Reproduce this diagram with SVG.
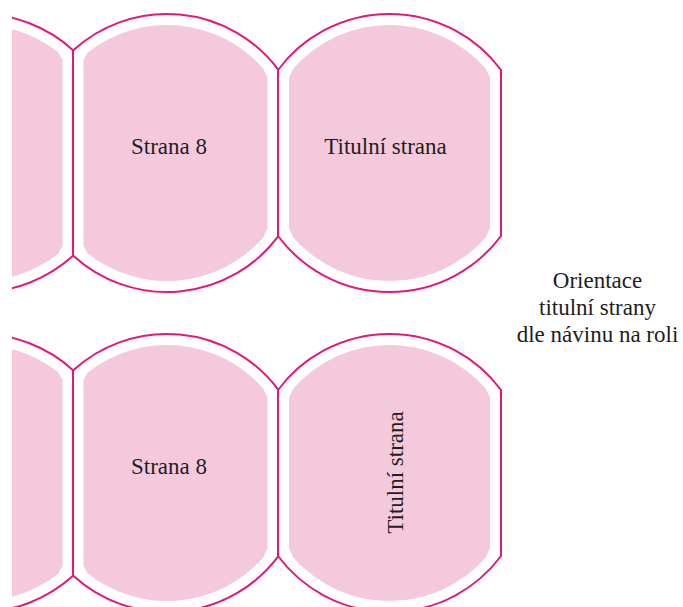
<svg xmlns="http://www.w3.org/2000/svg" width="683" height="607" viewBox="0 0 683 607">
  <style>
    .edge { fill: #ffffff; stroke: #E2187E; stroke-width: 2; stroke-linejoin: miter; }
    .face { fill: #F5C9DC; stroke: none; }
    text { font-family: 'Liberation Serif', 'Times New Roman', serif; font-size: 23px; fill: #1e1e1e; text-anchor: middle; }
  </style>
  <defs>
    <clipPath id="sheet">
      <rect x="12" y="0" width="671" height="607"/>
    </clipPath>
    <!-- one strip of three labels on the roll -->
    <g id="strip">
      <g id="label-prev">
        <path class="edge" d="M73,50.15 A139,139 0 1 0 73,255.85 Z"/>
        <path class="face" d="M58,51.9 A128,128 0 1 0 58,254.1 L62.5,246 L62.5,60 Z"/>
      </g>
      <g id="label-page8">
        <path class="edge" d="M73,50.6 A139,139 0 0 1 278,69.3 L278,236.7 A139,139 0 0 1 73,255.4 Z"/>
        <path class="face" d="M83.5,60 L88,52.3 A128,128 0 0 1 263,68.3 L267.5,77.5 L267.5,228.5 L263,237.7 A128,128 0 0 1 88,253.7 L83.5,246 Z"/>
      </g>
      <g id="label-title">
        <path class="edge" d="M278,70 A139,139 0 0 1 501,70 L501,236 A139,139 0 0 1 278,236 Z"/>
        <path class="face" d="M289,77.5 L293.5,68.3 A128,128 0 0 1 485.5,68.3 L490,77.5 L490,228.5 L485.5,237.7 A128,128 0 0 1 293.5,237.7 L289,228.5 Z"/>
      </g>
    </g>
  </defs>

  <g clip-path="url(#sheet)">
    <!-- upper roll: title page upright -->
    <g id="row-upright">
      <use href="#strip"/>
      <text x="169" y="154">Strana 8</text>
      <text x="385.5" y="154">Titulní strana</text>
    </g>

    <!-- lower roll: title page turned -->
    <g id="row-rotated" transform="translate(0,320)">
      <use href="#strip"/>
      <text x="169" y="154">Strana 8</text>
      <text transform="translate(403,152.5) rotate(-90)">Titulní strana</text>
    </g>
  </g>

  <g id="caption">
    <text x="597.5" y="288">Orientace</text>
    <text x="597.5" y="315">titulní strany</text>
    <text x="597.5" y="342">dle návinu na roli</text>
  </g>
</svg>
